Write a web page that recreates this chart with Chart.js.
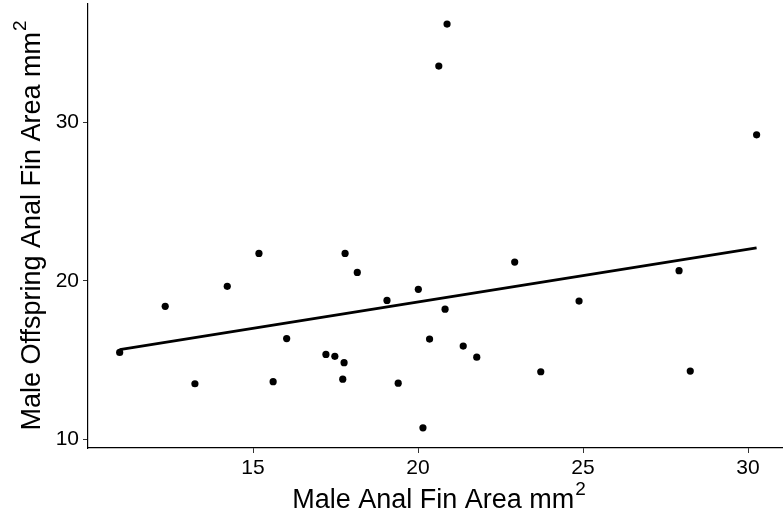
<!DOCTYPE html>
<html><head><meta charset="utf-8">
<script src="https://cdn.jsdelivr.net/npm/chart.js@4"></script>
<style>html,body{margin:0;padding:0;background:#fff;overflow:hidden}#wrap{width:783px;height:521px}</style>
</head><body><div id="wrap"><canvas id="c" width="783" height="521"></canvas></div>
<script>
// Data
const parentArea = [10.96, 12.34, 13.24, 14.22, 15.18, 15.61, 16.02, 17.21, 17.48, 17.76, 17.72, 17.79, 18.16, 19.06, 19.40, 20.01, 20.82, 20.35, 21.37, 21.78, 20.15, 22.93, 23.72, 24.88, 20.88, 20.63, 30.26, 27.91, 28.25];
const offspringArea = [15.49, 18.40, 13.51, 19.66, 21.74, 13.64, 16.36, 15.36, 15.24, 14.84, 13.80, 21.74, 20.54, 18.77, 13.55, 19.47, 18.22, 16.33, 15.89, 15.19, 10.73, 21.19, 14.27, 18.73, 36.21, 33.56, 29.22, 20.65, 14.31];
const fitX = [10.96, 30.26];
const fitY = [15.66, 22.08];
const xTicks = [15, 20, 25, 30];
const yTicks = [10, 20, 30];
const xTitle = 'Male Anal Fin Area mm';
const yTitle = 'Male Offspring Anal Fin Area mm';
const supText = '2';

const FONT = '"Liberation Sans", Arial, Helvetica, sans-serif';

const titlePlugin = {
  id: 'supTitles',
  afterDraw(chart) {
    const ctx = chart.ctx;
    const a = chart.chartArea;
    const mainFont = '27px ' + FONT;
    const supFont = '19px ' + FONT;
    function drawTitle(text, cx, baseY) {
      ctx.font = mainFont;
      const w1 = ctx.measureText(text).width;
      ctx.font = supFont;
      const w2 = ctx.measureText(supText).width;
      const start = cx - (w1 + w2) / 2;
      ctx.fillStyle = '#000';
      ctx.textAlign = 'left';
      ctx.textBaseline = 'alphabetic';
      ctx.font = mainFont;
      ctx.fillText(text, start, baseY);
      ctx.font = supFont;
      ctx.fillText(supText, start + w1 + 1, baseY - 13.5);
    }
    ctx.save();
    drawTitle(xTitle, (a.left + a.right) / 2 + 3, 508);
    ctx.restore();
    ctx.save();
    ctx.translate(39.5, (a.top + a.bottom) / 2);
    ctx.rotate(-Math.PI / 2);
    drawTitle(yTitle, 0, 0);
    ctx.restore();
  }
};

const points = parentArea.map((x, i) => ({x: x, y: offspringArea[i]}));
const fitLine = fitX.map((x, i) => ({x: x, y: fitY[i]}));

new Chart(document.getElementById('c'), {
  type: 'scatter',
  data: {
    datasets: [
      {data: points, pointRadius: 3.6, pointHoverRadius: 3.6, backgroundColor: '#000', borderWidth: 0, order: 2},
      {data: fitLine, showLine: true, pointRadius: 0, borderColor: '#000', borderWidth: 2.8, fill: false, order: 1}
    ]
  },
  options: {
    responsive: false,
    animation: false,
    events: [],
    layout: {autoPadding: false, padding: {top: 4, left: 0, right: 0, bottom: 0}},
    plugins: {legend: {display: false}, tooltip: {enabled: false}},
    scales: {
      x: {
        type: 'linear', min: 10.0, max: 31.06,
        afterBuildTicks: s => { s.ticks = xTicks.map(v => ({value: v})); },
        afterFit: s => { s.height = 73; s.paddingLeft = 0; s.paddingRight = 0; },
        grid: {drawOnChartArea: false, drawTicks: true, tickLength: 5, tickColor: '#333', tickWidth: 1},
        border: {display: true, color: '#000', width: 1.2},
        ticks: {font: {size: 21, family: FONT}, color: '#000', padding: 3, maxRotation: 0, autoSkip: false,
                callback: v => String(v)},
        title: {display: false}
      },
      y: {
        type: 'linear', min: 9.456, max: 37.48,
        afterBuildTicks: s => { s.ticks = yTicks.map(v => ({value: v})); },
        afterFit: s => { s.width = 88; s.paddingTop = 0; s.paddingBottom = 0; },
        grid: {drawOnChartArea: false, drawTicks: true, tickLength: 5, tickColor: '#333', tickWidth: 1},
        border: {display: true, color: '#000', width: 1.2},
        ticks: {font: {size: 21, family: FONT}, color: '#000', padding: 4, autoSkip: false,
                callback: v => String(v)},
        title: {display: false}
      }
    }
  },
  plugins: [titlePlugin]
});
</script>
</body></html>
